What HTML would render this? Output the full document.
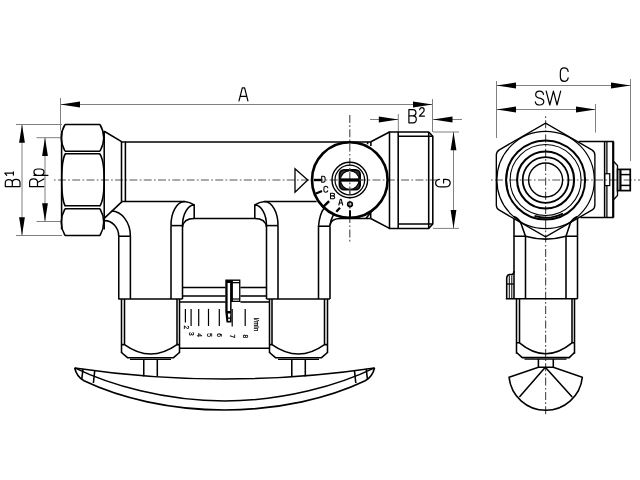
<!DOCTYPE html>
<html><head><meta charset="utf-8"><style>
html,body{margin:0;padding:0;background:#fff;width:640px;height:480px;overflow:hidden}
svg{display:block;will-change:transform}
text{font-family:"Liberation Sans",sans-serif;fill:#000;stroke:#000;stroke-width:0.25}
</style></head><body>
<svg width="640" height="480" viewBox="0 0 640 480">
<line x1="60.5" y1="98" x2="60.5" y2="130.5" stroke="#808080" stroke-width="1.0" />
<line x1="432.5" y1="99" x2="432.5" y2="132" stroke="#808080" stroke-width="1.0" />
<line x1="60.5" y1="104.5" x2="432.5" y2="104.5" stroke="#808080" stroke-width="1.0" />
<polygon points="60.5,104.5 80.00,101.60 80.00,107.40" fill="#000"/>
<polygon points="432.5,104.5 413.00,107.40 413.00,101.60" fill="#000"/>
<line x1="16" y1="124.5" x2="62" y2="124.5" stroke="#808080" stroke-width="1.0" />
<line x1="16" y1="235.5" x2="62" y2="235.5" stroke="#808080" stroke-width="1.0" />
<line x1="22" y1="124.5" x2="22" y2="235.5" stroke="#808080" stroke-width="1.0" />
<polygon points="22,124.5 24.90,142.80 19.10,142.80" fill="#000"/>
<polygon points="22,235.5 19.10,217.20 24.90,217.20" fill="#000"/>
<line x1="36.5" y1="137.7" x2="60.5" y2="137.7" stroke="#808080" stroke-width="1.0" />
<line x1="36.5" y1="221.5" x2="60.5" y2="221.5" stroke="#808080" stroke-width="1.0" />
<line x1="45" y1="137.7" x2="45" y2="221.5" stroke="#808080" stroke-width="1.0" />
<polygon points="45,137.7 47.90,156.00 42.10,156.00" fill="#000"/>
<polygon points="45,221.5 42.10,203.20 47.90,203.20" fill="#000"/>
<line x1="398.3" y1="114" x2="398.3" y2="132" stroke="#808080" stroke-width="1.0" />
<line x1="370" y1="119.5" x2="398.3" y2="119.5" stroke="#808080" stroke-width="1.0" />
<line x1="433" y1="119.5" x2="462" y2="119.5" stroke="#808080" stroke-width="1.0" />
<polygon points="398.3,119.5 378.80,122.40 378.80,116.60" fill="#000"/>
<polygon points="433,119.5 452.50,116.60 452.50,122.40" fill="#000"/>
<line x1="433" y1="132" x2="459" y2="132" stroke="#808080" stroke-width="1.0" />
<line x1="433" y1="228.4" x2="459" y2="228.4" stroke="#808080" stroke-width="1.0" />
<line x1="453.5" y1="132" x2="453.5" y2="228.4" stroke="#808080" stroke-width="1.0" />
<polygon points="453.5,132 456.40,150.30 450.60,150.30" fill="#000"/>
<polygon points="453.5,228.4 450.60,210.10 456.40,210.10" fill="#000"/>
<line x1="496.5" y1="81" x2="496.5" y2="138" stroke="#808080" stroke-width="1.0" />
<line x1="630.5" y1="79" x2="630.5" y2="161" stroke="#808080" stroke-width="1.0" />
<line x1="496.5" y1="85.5" x2="630.5" y2="85.5" stroke="#808080" stroke-width="1.0" />
<polygon points="496.5,85.5 516.00,82.60 516.00,88.40" fill="#000"/>
<polygon points="630.5,85.5 611.00,88.40 611.00,82.60" fill="#000"/>
<line x1="595.5" y1="104" x2="595.5" y2="132.5" stroke="#808080" stroke-width="1.0" />
<line x1="496.5" y1="109.5" x2="595.5" y2="109.5" stroke="#808080" stroke-width="1.0" />
<polygon points="496.5,109.5 516.00,106.60 516.00,112.40" fill="#000"/>
<polygon points="595.5,109.5 576.00,112.40 576.00,106.60" fill="#000"/>
<line x1="54" y1="180" x2="437" y2="180" stroke="#555" stroke-width="1.2" stroke-dasharray="8 2.3 1.7 2.3" stroke-dashoffset="10.4"/>
<line x1="490" y1="180" x2="640" y2="180" stroke="#555" stroke-width="1.2" stroke-dasharray="8 2.3 1.7 2.3" stroke-dashoffset="9.3"/>
<line x1="349.8" y1="115" x2="349.8" y2="243" stroke="#555" stroke-width="1.2" stroke-dasharray="8 2.3 1.7 2.3" stroke-dashoffset="0"/>
<line x1="545.6" y1="116" x2="545.6" y2="415" stroke="#555" stroke-width="1.2" stroke-dasharray="8 2.3 1.7 2.3" stroke-dashoffset="10.1"/>
<path d="M65,124.5 L100,124.5 M65,235.5 L100,235.5" stroke="#000" stroke-width="1.55" fill="none" />
<path d="M65,124.5 Q57.5,137.5 65,151.25 M100,124.5 Q107.5,137.5 100,151.25" stroke="#000" stroke-width="1.55" fill="none" />
<path d="M65,151.25 L100,151.25 M65,153.75 L100,153.75" stroke="#000" stroke-width="1.55" fill="none" />
<path d="M65.3,153.75 C60.5,162 60.5,198 65.3,206.25 M99.7,153.75 C105.6,162 105.6,198 99.7,206.25" stroke="#000" stroke-width="1.55" fill="none" />
<path d="M65,205.75 L100,205.75 M65,208.75 L100,208.75" stroke="#000" stroke-width="1.55" fill="none" />
<path d="M65,208.75 Q57.5,222 65,235.5 M100,208.75 Q107.5,222 100,235.5" stroke="#000" stroke-width="1.55" fill="none" />
<line x1="104.2" y1="131" x2="104.2" y2="229.5" stroke="#000" stroke-width="1.55" />
<line x1="61.6" y1="131" x2="61.6" y2="229.5" stroke="#000" stroke-width="1.55" />
<path d="M104.2,131.25 L122,141.8 M122,201.6 L104.2,218.4" stroke="#000" stroke-width="1.55" fill="none" />
<line x1="121.5" y1="141.8" x2="121.5" y2="201.5" stroke="#000" stroke-width="1.55" />
<line x1="125.4" y1="141.8" x2="125.4" y2="201.5" stroke="#000" stroke-width="1.55" />
<line x1="121.5" y1="142" x2="371" y2="142" stroke="#000" stroke-width="1.55" />
<line x1="121.5" y1="201.5" x2="184.4" y2="201.5" stroke="#000" stroke-width="1.55" />
<path d="M111.5,211.1 A19.2,25.1 0 0 1 130.4,236.25" stroke="#000" stroke-width="1.55" fill="none" />
<path d="M104.6,220.6 A14.15,15.65 0 0 1 118.75,236.25" stroke="#000" stroke-width="1.55" fill="none" />
<line x1="118.75" y1="236.25" x2="130.4" y2="236.25" stroke="#000" stroke-width="1.55" />
<line x1="118.75" y1="236.25" x2="118.75" y2="299" stroke="#000" stroke-width="1.55" />
<line x1="130.4" y1="236.25" x2="130.4" y2="299" stroke="#000" stroke-width="1.55" />
<path d="M171.0,225.6 A13.6,23.9 0 0 1 184.4,201.5 Q190,202 194.2,205" stroke="#000" stroke-width="1.55" fill="none" />
<path d="M182.5,225.6 A11.7,20.6 0 0 1 194.2,205 L194.2,218.5" stroke="#000" stroke-width="1.55" fill="none" />
<line x1="171.0" y1="225.6" x2="182.5" y2="225.6" stroke="#000" stroke-width="1.55" />
<path d="M182.5,227 Q183.5,218.5 194.2,218.5 L254.8,218.5" stroke="#000" stroke-width="1.55" fill="none" />
<line x1="171.0" y1="225.6" x2="171.0" y2="299" stroke="#000" stroke-width="1.55" />
<line x1="182.5" y1="225.6" x2="182.5" y2="299" stroke="#000" stroke-width="1.55" />
<path d="M278.0,225.6 A13.6,23.9 0 0 0 264.6,201.5 Q259,202 254.8,205" stroke="#000" stroke-width="1.55" fill="none" />
<path d="M266.5,225.6 A11.7,20.6 0 0 0 254.8,205 L254.8,218.5" stroke="#000" stroke-width="1.55" fill="none" />
<line x1="266.5" y1="225.6" x2="278.0" y2="225.6" stroke="#000" stroke-width="1.55" />
<path d="M266.5,227 Q265.5,218.5 254.8,218.5" stroke="#000" stroke-width="1.55" fill="none" />
<line x1="266.5" y1="225.6" x2="266.5" y2="299" stroke="#000" stroke-width="1.55" />
<line x1="278.0" y1="225.6" x2="278.0" y2="299" stroke="#000" stroke-width="1.55" />
<line x1="264.6" y1="201.5" x2="316.6" y2="201.5" stroke="#000" stroke-width="1.55" />
<line x1="318.5" y1="226.2" x2="318.5" y2="299" stroke="#000" stroke-width="1.55" />
<line x1="330.0" y1="226.2" x2="330.0" y2="299" stroke="#000" stroke-width="1.55" />
<line x1="318.5" y1="226.2" x2="330.0" y2="226.2" stroke="#000" stroke-width="1.55" />
<path d="M318.5,226.5 Q319.5,214 324.2,208" stroke="#000" stroke-width="1.55" fill="none" />
<path d="M330.0,226 Q330.5,220 333.5,214.7" stroke="#000" stroke-width="1.55" fill="none" />
<path d="M330.0,225 Q331,218.5 340.6,218.5 L370.7,218.5" stroke="#000" stroke-width="1.55" fill="none" />
<path d="M366,218.5 L370.7,212.5 L370.7,218.5" stroke="#000" stroke-width="1.55" fill="none" />
<line x1="370.7" y1="218.5" x2="389.5" y2="228.4" stroke="#000" stroke-width="1.55" />
<path d="M367.6,141.8 L367.6,144.3 M370.9,141.8 L370.9,146.1" stroke="#000" stroke-width="1.55" fill="none" />
<line x1="370.9" y1="141.8" x2="389.5" y2="132" stroke="#000" stroke-width="1.55" />
<path d="M389.5,132 L428.7,132 L432.8,136.25 L432.8,224.05 L428.7,228.4 L389.5,228.4 Z" stroke="#000" stroke-width="1.55" fill="none" />
<line x1="398.2" y1="132" x2="398.2" y2="228.4" stroke="#000" stroke-width="1.55" />
<line x1="428.7" y1="132" x2="428.7" y2="228.4" stroke="#000" stroke-width="1.55" />
<line x1="398.2" y1="136.25" x2="432.8" y2="136.25" stroke="#000" stroke-width="1.55" />
<line x1="398.2" y1="224.05" x2="432.8" y2="224.05" stroke="#000" stroke-width="1.55" />
<line x1="118.3" y1="299" x2="182.5" y2="299" stroke="#000" stroke-width="1.55" />
<line x1="266.5" y1="299" x2="330.0" y2="299" stroke="#000" stroke-width="1.55" />
<line x1="182.5" y1="287.5" x2="225.6" y2="287.5" stroke="#000" stroke-width="1.55" />
<line x1="240.4" y1="287.5" x2="266.5" y2="287.5" stroke="#000" stroke-width="1.55" />
<line x1="182.5" y1="296" x2="225.6" y2="296" stroke="#000" stroke-width="1.55" />
<line x1="240.4" y1="296" x2="266.5" y2="296" stroke="#000" stroke-width="1.55" />
<line x1="121.5" y1="299" x2="121.5" y2="353" stroke="#000" stroke-width="1.55" />
<line x1="179.5" y1="299" x2="179.5" y2="353" stroke="#000" stroke-width="1.55" />
<line x1="124.5" y1="299" x2="124.5" y2="344.6" stroke="#000" stroke-width="1.55" />
<line x1="177.0" y1="299" x2="177.0" y2="344.6" stroke="#000" stroke-width="1.55" />
<path d="M121.5,344.6 L124.5,344.6 Q150.5,363.4 177.0,344.6 L179.5,344.6" stroke="#000" stroke-width="1.55" fill="none" />
<path d="M121.5,352.5 L127.5,357.7 L173.5,357.7 L179.5,352.5" stroke="#000" stroke-width="1.55" fill="none" />
<line x1="130.0" y1="359.3" x2="171.0" y2="359.3" stroke="#000" stroke-width="1.3" />
<line x1="269.5" y1="299" x2="269.5" y2="353" stroke="#000" stroke-width="1.55" />
<line x1="327.5" y1="299" x2="327.5" y2="353" stroke="#000" stroke-width="1.55" />
<line x1="272.0" y1="299" x2="272.0" y2="344.6" stroke="#000" stroke-width="1.55" />
<line x1="324.5" y1="299" x2="324.5" y2="344.6" stroke="#000" stroke-width="1.55" />
<path d="M269.5,344.6 L272.0,344.6 Q298.5,363.4 324.5,344.6 L327.5,344.6" stroke="#000" stroke-width="1.55" fill="none" />
<path d="M269.5,352.5 L275.5,357.7 L321.5,357.7 L327.5,352.5" stroke="#000" stroke-width="1.55" fill="none" />
<line x1="278.0" y1="359.3" x2="319.0" y2="359.3" stroke="#000" stroke-width="1.3" />
<line x1="143.75" y1="359" x2="143.75" y2="376.5" stroke="#000" stroke-width="1.55" />
<line x1="157.3" y1="359" x2="157.3" y2="376.5" stroke="#000" stroke-width="1.55" />
<line x1="291.8" y1="359" x2="291.8" y2="376.5" stroke="#000" stroke-width="1.55" />
<line x1="305.3" y1="359" x2="305.3" y2="376.5" stroke="#000" stroke-width="1.55" />
<line x1="179.5" y1="302" x2="225.6" y2="302" stroke="#000" stroke-width="1.55" />
<line x1="240.4" y1="302" x2="269.5" y2="302" stroke="#000" stroke-width="1.55" />
<line x1="179.5" y1="348.3" x2="269.5" y2="348.3" stroke="#000" stroke-width="1.55" />
<line x1="185.4" y1="308.9" x2="185.4" y2="322.4" stroke="#000" stroke-width="1.2" />
<line x1="191.1" y1="308.9" x2="191.1" y2="326" stroke="#000" stroke-width="1.2" />
<line x1="198.7" y1="308.9" x2="198.7" y2="326" stroke="#000" stroke-width="1.2" />
<line x1="208.5" y1="308.9" x2="208.5" y2="326" stroke="#000" stroke-width="1.2" />
<line x1="219.3" y1="308.9" x2="219.3" y2="326" stroke="#000" stroke-width="1.2" />
<line x1="232.2" y1="308.9" x2="232.2" y2="326.6" stroke="#000" stroke-width="1.2" />
<line x1="245.2" y1="308.9" x2="245.2" y2="326" stroke="#000" stroke-width="1.2" />
<path d="M225.3,279.6 L240.4,279.6 L240.4,301.9 L231.6,301.9 L231.6,311.7 L231.6,322.5 L226.5,322.5 L225.3,311.7 Z" fill="#000"/>
<path d="M232.9,283.3 L239.1,283.3 L239.1,298.4 L232.9,298.4 Z" fill="#fff"/>
<path d="M232.9,280.9 L239.1,280.9 L239.1,282.0 L232.9,282.0 Z" fill="#fff"/>
<path d="M232.9,299.6 L239.1,299.6 L239.1,300.7 L232.9,300.7 Z" fill="#fff"/>
<path d="M227.6,283 L230.1,283 L230.1,311 L227.6,311 Z" fill="#fff"/>
<path d="M227.8,313.5 L230.4,313.5 L230,317.5 L228.2,317.5 Z" fill="#fff"/>
<path d="M228.2,318.8 L230,318.8 L229.8,321 L228.3,321 Z" fill="#fff"/>
<path d="M74.7,367.9 Q224.5,390 374.5,367.9" stroke="#000" stroke-width="1.55" fill="none" />
<path d="M74.7,367.9 C76,374 79,378 84,380.8 C120,398 170,410 224.6,410 C279.2,410 329.2,398 365.2,380.8 C370.2,378 373.2,374 374.5,367.9" stroke="#000" stroke-width="1.7" fill="none" />
<path d="M74.7,367.9 C110,385 165,401 224.6,401 C284.2,401 339.2,385 374.5,367.9" stroke="#000" stroke-width="1.55" fill="none" />
<path d="M83,368.9 L81.75,379.4 M94.7,370.8 L93.4,383 M366.2,368.9 L367.45,379.4 M354.5,370.8 L355.8,383" stroke="#000" stroke-width="1.55" fill="none" />
<circle cx="349.8" cy="180" r="37.8" stroke="#000" stroke-width="2.6" fill="none"/>
<circle cx="349.8" cy="180" r="17.8" stroke="#000" stroke-width="1.4" fill="none"/>
<circle cx="349.8" cy="180" r="14.8" stroke="#000" stroke-width="1.2" fill="none"/>
<rect x="339.5" y="169.9" width="20.6" height="19.8" rx="4.5" stroke="#000" stroke-width="1.8" fill="#333"/>
<circle cx="349.8" cy="180" r="9.3" stroke="#000" stroke-width="1.1" fill="#fff"/>
<line x1="340.5" y1="180" x2="359.2" y2="180" stroke="#000" stroke-width="2.8" />
<path d="M295,168.8 L307.75,180 L295,192.2 Z" stroke="#000" stroke-width="1.3" fill="none" />
<line x1="313.75" y1="180" x2="321.2" y2="180" stroke="#000" stroke-width="2.4" />
<line x1="315.5" y1="193.8" x2="322" y2="191" stroke="#000" stroke-width="2.2" />
<line x1="322.5" y1="207.7" x2="329.1" y2="201.1" stroke="#000" stroke-width="2.4" />
<line x1="336.3" y1="211.8" x2="340" y2="207.7" stroke="#000" stroke-width="2.2" />
<circle cx="350" cy="204.3" r="2.3" stroke="#000" stroke-width="1.7" fill="none"/>
<line x1="350" y1="210.3" x2="350" y2="218" stroke="#000" stroke-width="2" />
<line x1="349.8" y1="166" x2="349.8" y2="194" stroke="#555" stroke-width="1.2" stroke-dasharray="8 2.3 1.7 2.3" stroke-dashoffset="51"/>
<line x1="337" y1="180" x2="363" y2="180" stroke="#555" stroke-width="1.2" stroke-dasharray="8 2.3 1.7 2.3" stroke-dashoffset="293.4"/>
<line x1="340.5" y1="180" x2="359.2" y2="180" stroke="#000" stroke-width="2.8" />
<path d="M545.59,123.10 Q545.60,123.10 545.61,123.10 L591.85,149.80 Q594.88,151.55 594.88,155.05 L594.88,204.95 Q594.88,208.45 591.85,210.20 L545.61,236.90 Q545.60,236.90 545.59,236.90 L499.35,210.20 Q496.32,208.45 496.32,204.95 L496.32,155.05 Q496.32,151.55 499.35,149.80 Z" stroke="#000" stroke-width="1.35" fill="none" />
<circle cx="545.6" cy="180" r="48.7" stroke="#000" stroke-width="1.2" fill="none"/>
<circle cx="545.6" cy="180" r="39.5" stroke="#000" stroke-width="2.0" fill="none"/>
<circle cx="545.6" cy="180" r="35.5" stroke="#000" stroke-width="1.1" fill="none"/>
<path d="M534.5,215.9 A37.8,37.8 0 0 0 563,213.5" stroke="#000" stroke-width="1.8" fill="none" />
<path d="M507.8,169.6 A37.8,37.8 0 0 0 507.8,190.4" stroke="#000" stroke-width="1.4" fill="none" />
<circle cx="545.6" cy="180" r="28.5" stroke="#000" stroke-width="2.1" fill="none"/>
<circle cx="545.6" cy="180" r="22.9" stroke="#000" stroke-width="1.8" fill="none"/>
<circle cx="545.6" cy="180" r="17.0" stroke="#000" stroke-width="1.4" fill="none"/>
<path d="M578.7,141.5 L613.75,141.5 M580.4,217.5 L613.75,217.5" stroke="#000" stroke-width="1.55" fill="none" />
<line x1="604.6" y1="141.5" x2="604.6" y2="217.5" stroke="#000" stroke-width="1.5" />
<line x1="606.9" y1="141.5" x2="606.9" y2="173.75" stroke="#000" stroke-width="1.3" />
<line x1="606.9" y1="185.6" x2="606.9" y2="217.5" stroke="#000" stroke-width="1.3" />
<line x1="613.2" y1="141.5" x2="613.2" y2="217.5" stroke="#000" stroke-width="2.2" />
<rect x="604.6" y="173.75" width="5.15" height="11.85" rx="0" stroke="#000" stroke-width="1.2" fill="none"/>
<path d="M613.2,161 L617.5,165.5 L617.5,195.5 L613.2,200" stroke="#000" stroke-width="1.3" fill="none" />
<rect x="617.5" y="169.4" width="12.75" height="21.2" rx="0" stroke="#000" stroke-width="1.7" fill="none"/>
<line x1="620.4" y1="169.4" x2="620.4" y2="190.6" stroke="#000" stroke-width="2.2" />
<line x1="620.4" y1="174.6" x2="630.25" y2="174.6" stroke="#000" stroke-width="1.5" />
<line x1="620.4" y1="185.4" x2="630.25" y2="185.4" stroke="#000" stroke-width="1.5" />
<line x1="514.0" y1="218.75" x2="514.0" y2="298.75" stroke="#000" stroke-width="1.55" />
<line x1="577.5" y1="218" x2="577.5" y2="298.75" stroke="#000" stroke-width="1.55" />
<path d="M525.5,298.75 L525.5,236.25 L521,223.5 Q519,218.5 514.0,216.5" stroke="#000" stroke-width="1.55" fill="none" />
<path d="M566.0,298.75 L566.0,236.25 L570.2,223.5 Q572.2,218.5 577.5,216.5" stroke="#000" stroke-width="1.55" fill="none" />
<line x1="514.0" y1="236.25" x2="525.5" y2="236.25" stroke="#000" stroke-width="1.55" />
<line x1="566.0" y1="236.25" x2="577.5" y2="236.25" stroke="#000" stroke-width="1.55" />
<path d="M525.5,236.25 Q545.6,242 566.0,236.25" stroke="#000" stroke-width="1.55" fill="none" />
<line x1="505.8" y1="298.75" x2="577.5" y2="298.75" stroke="#000" stroke-width="1.55" />
<path d="M506.7,298.75 L506.7,278.5 Q506.7,274.4 510.3,274.4 L512.3,274.4 Q513.9,274 513.9,271" stroke="#000" stroke-width="1.55" fill="none" />
<line x1="509.3" y1="275.5" x2="509.3" y2="298.75" stroke="#000" stroke-width="1.0" />
<line x1="511.8" y1="275.5" x2="511.8" y2="298.75" stroke="#000" stroke-width="1.0" />
<line x1="506.7" y1="284" x2="514.0" y2="284" stroke="#000" stroke-width="1.3" />
<line x1="516.5" y1="298.75" x2="516.5" y2="353.7" stroke="#000" stroke-width="1.55" />
<line x1="574.5" y1="298.75" x2="574.5" y2="353.7" stroke="#000" stroke-width="1.55" />
<line x1="519.5" y1="298.75" x2="519.5" y2="342.8" stroke="#000" stroke-width="1.55" />
<line x1="572.0" y1="298.75" x2="572.0" y2="342.8" stroke="#000" stroke-width="1.55" />
<path d="M516.5,342.8 L519.5,342.8 Q545.6,364.6 572.0,342.8 L574.5,342.8" stroke="#000" stroke-width="1.55" fill="none" />
<path d="M516.5,352.5 L522.3,357.6 L569.2,357.6 L574.5,352.5" stroke="#000" stroke-width="1.55" fill="none" />
<line x1="524.5" y1="359.2" x2="566.5" y2="359.2" stroke="#000" stroke-width="1.3" />
<line x1="538.4" y1="359" x2="538.4" y2="367.2" stroke="#000" stroke-width="1.55" />
<line x1="553.3" y1="359" x2="553.3" y2="367.2" stroke="#000" stroke-width="1.55" />
<path d="M509.1,377.3 L538.4,367.2 L553.3,367.2 L582.3,377.3 A36.8,36.8 0 0 1 509.1,377.3 Z" stroke="#000" stroke-width="1.55" fill="none" />
<path d="M545.3,367.2 L519.4,397 M545.3,367.2 L572.2,397" stroke="#000" stroke-width="1.55" fill="none" />
<path d="M0,0 L3.7,-14.3 L6.3,-14.3 L10,0 M1.5,-4.9 L8.5,-4.9" transform="translate(239.0,100.9) scale(0.8900,0.9161)" stroke="#000" stroke-width="1.2" fill="none" stroke-linecap="round" stroke-linejoin="round" vector-effect="non-scaling-stroke"/>
<path d="M0,0 L0,-14.3 L4.8,-14.3 C7.5,-14.3 8.2,-12.6 8.2,-10.8 C8.2,-8.8 7,-7.5 4.6,-7.5 L0,-7.5 M4.6,-7.5 C7.4,-7.5 8.6,-5.8 8.6,-3.8 C8.6,-1.6 7.4,0 4.8,0 L0,0" transform="translate(408.9,122.8) scale(0.8605,0.9231)" stroke="#000" stroke-width="1.2" fill="none" stroke-linecap="round" stroke-linejoin="round" vector-effect="non-scaling-stroke"/>
<path d="M0.3,-7.6 C0.6,-9.2 1.6,-10 3.1,-10 C4.9,-10 6,-8.9 6,-7.3 C6,-5.9 5.2,-5 3.8,-3.8 L0,0 L6.3,0" transform="translate(419.4,116.2) scale(0.7937,0.8600)" stroke="#000" stroke-width="1.2" fill="none" stroke-linecap="round" stroke-linejoin="round" vector-effect="non-scaling-stroke"/>
<path d="M9,-10.8 C8.6,-13.2 7.2,-14.6 4.5,-14.6 C1.6,-14.6 0,-12.4 0,-9.6 L0,-5 C0,-2.2 1.6,0 4.5,0 C7.2,0 8.6,-1.4 9,-3.8" transform="translate(560.35,81.3) scale(0.8667,0.9212)" stroke="#000" stroke-width="1.2" fill="none" stroke-linecap="round" stroke-linejoin="round" vector-effect="non-scaling-stroke"/>
<path d="M9.2,-11.2 C8.8,-13.4 7.2,-14.6 4.8,-14.6 C2,-14.6 0.4,-13.1 0.4,-10.9 C0.4,-8.6 2.2,-7.8 4.8,-7.2 C7.6,-6.6 9.6,-5.6 9.6,-3.6 C9.6,-1.2 7.8,0 4.8,0 C2,0 0.3,-1.1 0,-3.3" transform="translate(535.35,105.0) scale(0.8802,0.9452)" stroke="#000" stroke-width="1.2" fill="none" stroke-linecap="round" stroke-linejoin="round" vector-effect="non-scaling-stroke"/>
<path d="M0,-14.6 L3.9,0 L7.8,-14.6 L11.7,0 L15.6,-14.6" transform="translate(546.2,105.0) scale(0.9263,0.9452)" stroke="#000" stroke-width="1.2" fill="none" stroke-linecap="round" stroke-linejoin="round" vector-effect="non-scaling-stroke"/>
<path d="M0,0 L0,-14.3 L4.8,-14.3 C7.5,-14.3 8.2,-12.6 8.2,-10.8 C8.2,-8.8 7,-7.5 4.6,-7.5 L0,-7.5 M4.6,-7.5 C7.4,-7.5 8.6,-5.8 8.6,-3.8 C8.6,-1.6 7.4,0 4.8,0 L0,0" transform="translate(20.0,186.6) rotate(-90) scale(0.8430,1.0280)" stroke="#000" stroke-width="1.2" fill="none" stroke-linecap="round" stroke-linejoin="round" vector-effect="non-scaling-stroke"/>
<path d="M0,-7.8 L3.2,-10 L3.2,0 M0.4,0 L5,0" transform="translate(13.4,175.4) rotate(-90) scale(0.7100,0.8600)" stroke="#000" stroke-width="1.2" fill="none" stroke-linecap="round" stroke-linejoin="round" vector-effect="non-scaling-stroke"/>
<path d="M0,0 L0,-14.3 L5,-14.3 C7.8,-14.3 9,-12.5 9,-10.3 C9,-8 7.8,-6.4 5,-6.4 L0,-6.4 M4.8,-6.4 L9,0" transform="translate(43.9,186.6) rotate(-90) scale(0.8556,1.0000)" stroke="#000" stroke-width="1.2" fill="none" stroke-linecap="round" stroke-linejoin="round" vector-effect="non-scaling-stroke"/>
<path d="M0,4.2 L0,-10.6 M0,-7.2 C0.3,-9.6 1.8,-10.6 4,-10.6 C6.5,-10.6 7.8,-8.8 7.8,-6.5 L7.8,-4 C7.8,-1.5 6.5,0.1 4,0.1 C1.8,0.1 0.3,-1 0,-3.4" transform="translate(43.9,175.4) rotate(-90) scale(0.8205,0.9434)" stroke="#000" stroke-width="1.2" fill="none" stroke-linecap="round" stroke-linejoin="round" vector-effect="non-scaling-stroke"/>
<path d="M8.7,-10.8 C8.3,-13.2 7,-14.6 4.4,-14.6 C1.5,-14.6 0,-12.4 0,-9.6 L0,-5 C0,-2.2 1.5,0 4.4,0 C7.2,0 8.7,-1.8 8.7,-4.5 L8.7,-6.6 L4.6,-6.6" transform="translate(450.2,186.9) rotate(-90) scale(0.8678,1.0000)" stroke="#000" stroke-width="1.2" fill="none" stroke-linecap="round" stroke-linejoin="round" vector-effect="non-scaling-stroke"/>
<path d="M0,0 L0,-14.3 L4,-14.3 C7,-14.3 8.6,-12 8.6,-9 L8.6,-5.3 C8.6,-2.3 7,0 4,0 Z" transform="translate(321.7,182.2) scale(0.3953,0.4196)" stroke="#000" stroke-width="1.05" fill="none" stroke-linecap="round" stroke-linejoin="round" vector-effect="non-scaling-stroke"/>
<path d="M9,-10.8 C8.6,-13.2 7.2,-14.6 4.5,-14.6 C1.6,-14.6 0,-12.4 0,-9.6 L0,-5 C0,-2.2 1.6,0 4.5,0 C7.2,0 8.6,-1.4 9,-3.8" transform="translate(323.9,192.3) scale(0.4333,0.4178)" stroke="#000" stroke-width="1.05" fill="none" stroke-linecap="round" stroke-linejoin="round" vector-effect="non-scaling-stroke"/>
<path d="M0,0 L0,-14.3 L4.8,-14.3 C7.5,-14.3 8.2,-12.6 8.2,-10.8 C8.2,-8.8 7,-7.5 4.6,-7.5 L0,-7.5 M4.6,-7.5 C7.4,-7.5 8.6,-5.8 8.6,-3.8 C8.6,-1.6 7.4,0 4.8,0 L0,0" transform="translate(330.5,198.8) scale(0.4884,0.3916)" stroke="#000" stroke-width="1.05" fill="none" stroke-linecap="round" stroke-linejoin="round" vector-effect="non-scaling-stroke"/>
<path d="M0,0 L3.7,-14.3 L6.3,-14.3 L10,0 M1.5,-4.9 L8.5,-4.9" transform="translate(338.8,205.0) scale(0.3900,0.3986)" stroke="#000" stroke-width="1.05" fill="none" stroke-linecap="round" stroke-linejoin="round" vector-effect="non-scaling-stroke"/>
<text x="186.1" y="327.3" font-size="6.5" text-anchor="middle" dominant-baseline="central" transform="rotate(90 186.1 327.3)">2</text>
<text x="191.9" y="333.9" font-size="6.5" text-anchor="middle" dominant-baseline="central" transform="rotate(90 191.9 333.9)">3</text>
<text x="199.4" y="335" font-size="6.5" text-anchor="middle" dominant-baseline="central" transform="rotate(90 199.4 335)">4</text>
<text x="209.1" y="335" font-size="6.5" text-anchor="middle" dominant-baseline="central" transform="rotate(90 209.1 335)">5</text>
<text x="219.5" y="335" font-size="6.5" text-anchor="middle" dominant-baseline="central" transform="rotate(90 219.5 335)">6</text>
<text x="232.6" y="336.2" font-size="6.5" text-anchor="middle" dominant-baseline="central" transform="rotate(90 232.6 336.2)">7</text>
<text x="245.5" y="336.2" font-size="6.5" text-anchor="middle" dominant-baseline="central" transform="rotate(90 245.5 336.2)">8</text>
<text x="256.7" y="324.5" font-size="6.5" text-anchor="middle" dominant-baseline="central" transform="rotate(90 256.7 324.5)">l/min</text>
</svg>
</body></html>
